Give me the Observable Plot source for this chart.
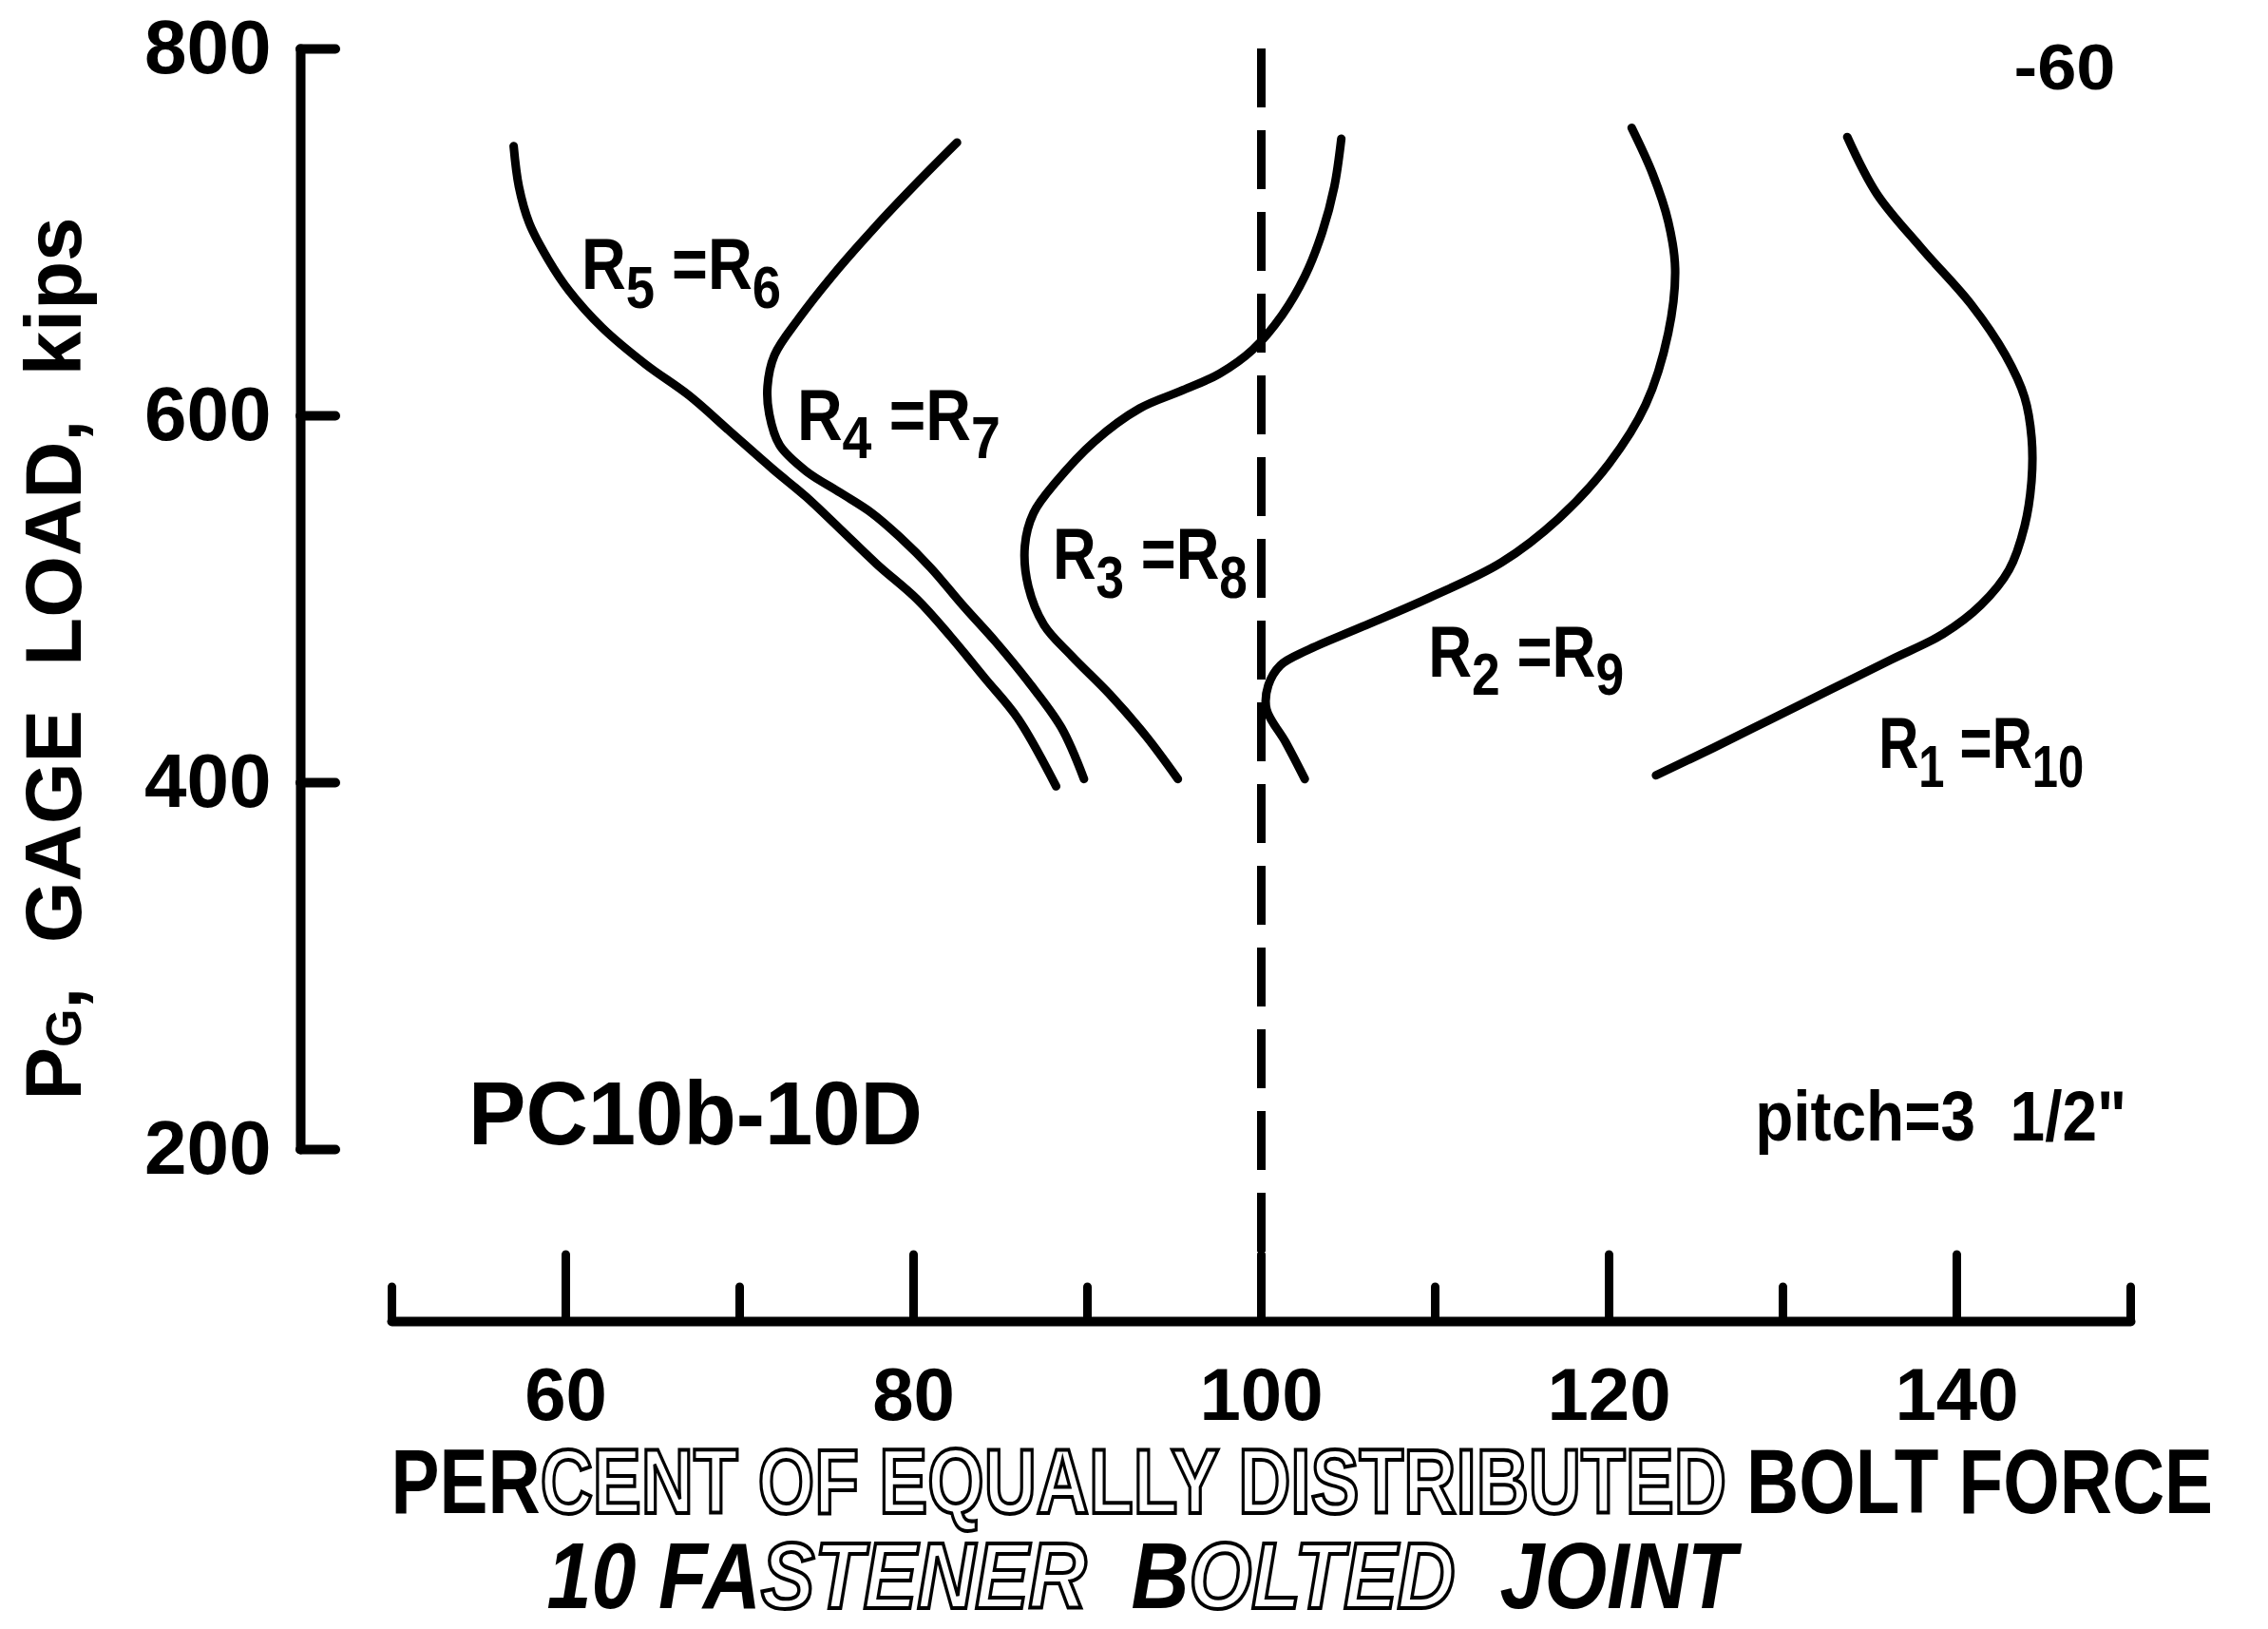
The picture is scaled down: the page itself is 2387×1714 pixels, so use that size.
<!DOCTYPE html>
<html>
<head>
<meta charset="utf-8">
<script src="https://cdn.jsdelivr.net/npm/d3@7"></script>
<script src="https://cdn.jsdelivr.net/npm/@observablehq/plot@0.6"></script>
<style>
  html, body { margin: 0; padding: 0; background: #fff; }
  svg text { white-space: pre; }
</style>
</head>
<body>
<div id="chart"></div>
<script>
// ---------------- data ----------------
const xTicksMajor = [60, 80, 100, 120, 140];
const xTicksMinor = [50, 70, 90, 110, 130, 150];
const yTicks = [200, 400, 600, 800];
const equalShare = [100];

const curveNames = ["R5=R6", "R4=R7", "R3=R8", "R2=R9", "R1=R10"];

const r5r6Pct  = [57.0, 57.3, 57.9, 59.0, 60.2, 62.1, 64.6, 67.1, 69.5, 71.9, 73.8, 75.7, 77.9, 80.2, 82.1, 84.1, 86.0, 88.2];
const r5r6Load = [747, 725, 705, 685, 668, 648, 628, 611, 591, 571, 556, 539, 519, 500, 480, 457, 435, 398];

const r4r7Pct  = [82.5, 80.3, 77.8, 75.3, 73.4, 72.0, 71.6, 71.7, 72.3, 73.8, 75.8, 77.6, 79.2, 81.0, 82.8, 84.7, 86.6, 88.5, 89.8];
const r4r7Load = [749, 728, 703, 676, 653, 633, 616, 601, 584, 570, 558, 547, 534, 517, 497, 477, 455, 430, 402];

const r3r8Pct  = [95.2, 93.4, 91.3, 89.1, 87.5, 86.6, 86.4, 86.9, 88.2, 90.4, 93.0, 95.5, 97.6, 99.5, 101.2, 102.5, 103.5, 104.2, 104.6];
const r3r8Load = [402, 425, 448, 469, 486, 507, 529, 547, 564, 586, 604, 614, 623, 636, 655, 676, 700, 725, 751];

const r2r9Pct  = [102.5, 101.4, 100.3, 100.4, 101.1, 102.6, 105.8, 109.7, 113.8, 117.1, 120.0, 122.1, 123.4, 123.8, 123.4, 122.5, 121.3];
const r2r9Load = [402, 422, 440, 453, 464, 472, 485, 501, 520, 544, 574, 606, 645, 680, 706, 732, 757];

const r1r10Pct  = [122.7, 126.0, 129.4, 132.8, 136.2, 139.2, 141.4, 143.0, 143.9, 144.3, 144.3, 143.9, 142.8, 140.8, 138.0, 135.4, 133.7];
const r1r10Load = [404, 419, 435, 451, 467, 481, 497, 516, 540, 565, 588, 610, 633, 661, 691, 721, 752];

// "_[..]" = subscript, "~[..]" = small letter on the baseline, "{..}" = letters printed hollow in the scan
const curveLabels = ["R_[5] =R_[6]", "R_[4] =R_[7]", "R_[3] =R_[8]", "R_[2] =R_[9]", "R_[1] =R_[10]"];
const specimen = ["PC10b-10D"];
const pitchNote = ["pitch=3  1/2\""];
const pageMark = ["-60"];
const xTitle = ["PER{CENT OF EQUALLY DISTRIBUTED} BOLT FORCE"];
const subTitle = ["10 FA{STENER}  B{OLTED}  JOINT"];
const yTitle = ["P~[G],  GAGE  LOAD,  kips"];

// ---------------- tables built from the arrays ----------------
const curvePct = [r5r6Pct, r4r7Pct, r3r8Pct, r2r9Pct, r1r10Pct];
const curveLoad = [r5r6Load, r4r7Load, r3r8Load, r2r9Load, r1r10Load];
const curveRows = curveNames.flatMap((name, k) =>
  curvePct[k].map((p, i) => ({series: name, pct: p, load: curveLoad[k][i]})));

// ---------------- layout (positions / sizes / fonts) ----------------
const labelAt = [[60.9, 669], [73.3, 587], [88.0, 511], [109.6, 458], [135.5, 408]];
const labelRows = curveLabels.map((t, i) => ({text: t, x: labelAt[i][0], y: labelAt[i][1]}));
const font = "'Liberation Sans', Arial, Helvetica, sans-serif";
// width of the original lettering (px): the text is condensed horizontally to it
const fitWidth = new Map([
  [xTitle[0], 1918], [subTitle[0], 1252], [yTitle[0], 929],
  [specimen[0], 478], [pitchNote[0], 391], [pageMark[0], 107],
  [curveLabels[0], 210], [curveLabels[1], 214], [curveLabels[2], 205], [curveLabels[3], 206], [curveLabels[4], 216]
]);
const subShift = 0.26;   // fraction of the main font size
const subSize = 0.84;

const chart = Plot.plot({
  width: 2387,
  height: 1714,
  marginLeft: 412,
  marginRight: 145,
  marginTop: 51,
  marginBottom: 324,
  x: {domain: [50, 150]},
  y: {domain: [200, 800], range: [1209, 51]},
  style: {fontFamily: font, fontSize: "40px", color: "#000", background: "#fff", overflow: "visible"},
  marks: [
    // axis lines
    Plot.frame({anchor: "bottom", strokeWidth: 10, strokeLinecap: "round"}),
    Plot.frame({anchor: "left", dx: -96, insetBottom: 181, strokeWidth: 10, strokeLinecap: "round"}),
    // y ticks (pointing right) and labels
    Plot.axisY({anchor: "left", ticks: yTicks, tickSize: -37, dx: -96, strokeWidth: 10, strokeLinecap: "round", fill: "none", label: null}),
    Plot.axisY({anchor: "left", ticks: yTicks, tickSize: 0, tickPadding: 31, dx: -96, fontSize: 80, fontWeight: "bold", label: null}),
    // x ticks (pointing up) and labels
    Plot.axisX({anchor: "bottom", ticks: xTicksMajor, tickSize: -70, strokeWidth: 9, strokeLinecap: "round", fill: "none", label: null}),
    Plot.axisX({anchor: "bottom", ticks: xTicksMinor, tickSize: -36, strokeWidth: 9, strokeLinecap: "round", fill: "none", label: null}),
    Plot.axisX({anchor: "bottom", ticks: xTicksMajor, tickSize: 0, tickPadding: 48, fontSize: 78, fontWeight: "bold", label: null}),
    // 100 % reference (equal share)
    Plot.ruleX(equalShare, {strokeWidth: 9, strokeDasharray: "62,24", insetBottom: 47}),
    // curves
    Plot.line(curveRows, {x: "pct", y: "load", z: "series", curve: "catmull-rom", strokeWidth: 9, strokeLinecap: "round", strokeLinejoin: "round"}),
    // curve labels
    Plot.text(labelRows, {x: "x", y: "y", text: "text", textAnchor: "start", lineAnchor: "bottom", fontSize: 76, fontWeight: "bold"}),
    // annotations
    Plot.text(specimen, {x: 54.4, y: 203, textAnchor: "start", lineAnchor: "bottom", fontSize: 95, fontWeight: "bold"}),
    Plot.text(pitchNote, {x: 128.4, y: 204.7, textAnchor: "start", lineAnchor: "bottom", fontSize: 74, fontWeight: "bold"}),
    Plot.text(pageMark, {frameAnchor: "top-right", dx: -16, dy: 42, textAnchor: "end", lineAnchor: "bottom", fontSize: 68, fontWeight: "bold"}),
    // titles
    Plot.text(xTitle, {frameAnchor: "bottom-left", dx: -1, dy: 201, textAnchor: "start", lineAnchor: "bottom", fontSize: 96, fontWeight: "bold"}),
    Plot.text(subTitle, {frameAnchor: "bottom-left", dx: 163, dy: 301, textAnchor: "start", lineAnchor: "bottom", fontSize: 98, fontWeight: "bold", fontStyle: "italic"}),
    Plot.text(yTitle, {frameAnchor: "left", rotate: -90, dx: -328, dy: -28, textAnchor: "middle", lineAnchor: "bottom", fontSize: 84, fontWeight: "bold"})
  ]
});

document.getElementById("chart").append(chart);

// rich text (subscripts, small letters, hollow lettering), then condense each text to the original's width
const NS = "http://www.w3.org/2000/svg";
for (const t of chart.querySelectorAll("text")) {
  const s = t.textContent;
  if (/[{\[]/.test(s)) {
    t.textContent = "";
    let lowered = false;
    for (const part of s.split(/(\{[^}]*\}|[_~]\[[^\]]*\])/)) {
      if (!part) continue;
      const ts = document.createElementNS(NS, "tspan");
      if (part[0] === "{") {
        ts.textContent = part.slice(1, -1);
        ts.setAttribute("fill", "#fff");
        ts.setAttribute("stroke", "#000");
        ts.setAttribute("stroke-width", "4");
      } else if (part[0] === "_") {
        ts.textContent = part.slice(2, -1);
        ts.setAttribute("font-size", (subSize * 100) + "%");
      } else if (part[0] === "~") {
        ts.textContent = part.slice(2, -1);
        ts.setAttribute("font-size", "62%");
      } else {
        ts.textContent = part;
      }
      const isSub = part[0] === "_";
      if (isSub && !lowered) { ts.setAttribute("dy", (subShift / subSize) + "em"); lowered = true; }
      else if (!isSub && lowered) { ts.setAttribute("dy", (-subShift) + "em"); lowered = false; }
      t.append(ts);
    }
  }
  if (fitWidth.has(s)) {
    const len = t.getComputedTextLength();
    if (len > 0) {
      const sx = fitWidth.get(s) / len;
      const x0 = +t.getAttribute("x") || 0;
      const tr = t.getAttribute("transform") || "";
      t.setAttribute("transform", `${tr} translate(${x0},0) scale(${sx},1) translate(${-x0},0)`);
    }
  }
}
</script>
</body>
</html>
